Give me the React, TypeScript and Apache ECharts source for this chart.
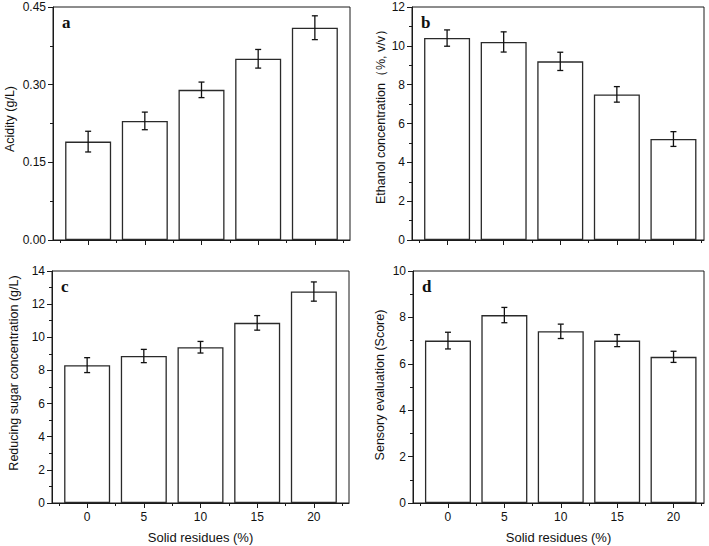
import React, { useEffect, useRef } from "react";
import * as echarts from "echarts";

const categories = [0, 5, 10, 15, 20];
const minorX = [-2.5, 2.5, 7.5, 12.5, 17.5, 22.5];
const acidity = [0.19, 0.23, 0.29, 0.35, 0.41];
const acidityErr = [0.02, 0.017, 0.015, 0.018, 0.023];
const ethanol = [10.4, 10.2, 9.2, 7.5, 5.2];
const ethanolErr = [0.42, 0.52, 0.47, 0.4, 0.38];
const sugar = [8.32, 8.87, 9.4, 10.87, 12.76];
const sugarErr = [0.45, 0.4, 0.35, 0.44, 0.58];
const sensory = [7.0, 8.1, 7.4, 7.0, 6.3];
const sensoryErr = [0.36, 0.33, 0.31, 0.26, 0.24];

const panels = [
  { letter: "a", name: "Acidity (g/L)", vals: acidity, errs: acidityErr, max: 0.45, interval: 0.15, dec: 2,
    left: 53, top: 7, width: 297, height: 233, xmin: -3.1, xmax: 23.1, nameGap: 37, shift: 9, bottom: false },
  { letter: "b", name: "Ethanol concentration（%, v/v）", vals: ethanol, errs: ethanolErr, max: 12, interval: 2, dec: 0,
    left: 412, top: 7, width: 292, height: 233, xmin: -3.1, xmax: 22.7, nameGap: 25, shift: 20, bottom: false },
  { letter: "c", name: "Reducing sugar concentration (g/L)", vals: sugar, errs: sugarErr, max: 14, interval: 2, dec: 0,
    left: 52, top: 271, width: 297, height: 232, xmin: -3.1, xmax: 23.1, nameGap: 32, shift: 28, bottom: true },
  { letter: "d", name: "Sensory evaluation (Score)", vals: sensory, errs: sensoryErr, max: 10, interval: 2, dec: 0,
    left: 413, top: 271, width: 291, height: 232, xmin: -3.1, xmax: 22.7, nameGap: 27, shift: 4, bottom: true },
];

const FONT = "Liberation Sans";
const LINE = "#1a1a1a";

export default function App() {
  const ref = useRef<HTMLDivElement>(null);
  useEffect(() => {
    if (!ref.current) return;
    const chart = echarts.init(ref.current, undefined, { renderer: "svg" });
    const grid: any[] = [];
    const xAxis: any[] = [];
    const yAxis: any[] = [];
    const series: any[] = [];
    const graphic: any[] = [];
    panels.forEach((p, i) => {
      grid.push({ left: p.left, top: p.top, width: p.width, height: p.height, show: true,
        borderColor: LINE, borderWidth: 1, backgroundColor: "transparent" });
      xAxis.push({
        type: "value", gridIndex: i, position: "bottom", min: p.xmin, max: p.xmax,
        axisLine: { show: true, onZero: false, lineStyle: { color: LINE, width: 1 } },
        axisTick: { show: true, customValues: categories, length: 5, lineStyle: { color: LINE } },
        axisLabel: { show: p.bottom, customValues: categories, margin: 8, fontFamily: FONT, fontSize: 12, color: "#111" },
        splitLine: { show: false },
        name: p.bottom ? "Solid residues (%)" : "", nameLocation: "middle", nameGap: 28,
        nameTextStyle: { fontFamily: FONT, fontSize: 13, color: "#111" },
      });
      xAxis.push({
        type: "value", gridIndex: i, position: "bottom", min: p.xmin, max: p.xmax,
        axisLine: { show: false, onZero: false },
        axisTick: { show: true, customValues: minorX, length: 3, lineStyle: { color: LINE } },
        axisLabel: { show: false },
        splitLine: { show: false },
      });
      yAxis.push({
        type: "value", gridIndex: i, position: "left", min: 0, max: p.max, interval: p.interval,
        axisLine: { show: true, onZero: false, lineStyle: { color: LINE, width: 1 } },
        axisTick: { show: true, length: 5, lineStyle: { color: LINE } },
        minorTick: { show: true, splitNumber: 2, length: 3, lineStyle: { color: LINE } },
        splitLine: { show: false },
        minorSplitLine: { show: false },
        axisLabel: { margin: 7, fontFamily: FONT, fontSize: 12, color: "#111",
          formatter: (v: number) => v.toFixed(p.dec) },
        name: p.name, nameLocation: "middle", nameGap: p.nameGap, nameRotate: 90,
        nameTextStyle: { fontFamily: FONT, fontSize: 12.5, color: "#111", padding: [0, 0, 0, p.shift] },
      });
      series.push({
        type: "bar", xAxisIndex: 2 * i, yAxisIndex: i, barWidth: 46,
        data: categories.map((c, j) => [c, p.vals[j]]),
        itemStyle: { color: "#fff", borderColor: "#2a2a2a", borderWidth: 1.3 },
        z: 2,
      });
      series.push({
        type: "custom", xAxisIndex: 2 * i, yAxisIndex: i,
        data: categories.map((c, j) => [c, p.vals[j] - p.errs[j], p.vals[j] + p.errs[j]]),
        encode: { x: 0, y: [1, 2] },
        z: 3,
        renderItem: (params: any, api: any) => {
          const x = api.value(0);
          const lo = api.coord([x, api.value(1)]);
          const hi = api.coord([x, api.value(2)]);
          const w = 3;
          const st = { stroke: "#111", lineWidth: 1.3 };
          return {
            type: "group",
            children: [
              { type: "line", shape: { x1: lo[0], y1: lo[1], x2: hi[0], y2: hi[1] }, style: st },
              { type: "line", shape: { x1: lo[0] - w, y1: lo[1], x2: lo[0] + w, y2: lo[1] }, style: st },
              { type: "line", shape: { x1: hi[0] - w, y1: hi[1], x2: hi[0] + w, y2: hi[1] }, style: st },
            ],
          };
        },
      });
      graphic.push({
        type: "text", left: p.left + 9, top: p.top + 7,
        style: { text: p.letter, fontFamily: "Liberation Serif", fontWeight: "bold", fontSize: 17, fill: "#111" },
      });
    });
    chart.setOption({
      animation: false,
      backgroundColor: "#fff",
      grid, xAxis, yAxis, series, graphic,
    });
    return () => chart.dispose();
  }, []);
  return <div ref={ref} style={{ position: "absolute", left: 0, top: 0, width: 709, height: 546 }} />;
}
